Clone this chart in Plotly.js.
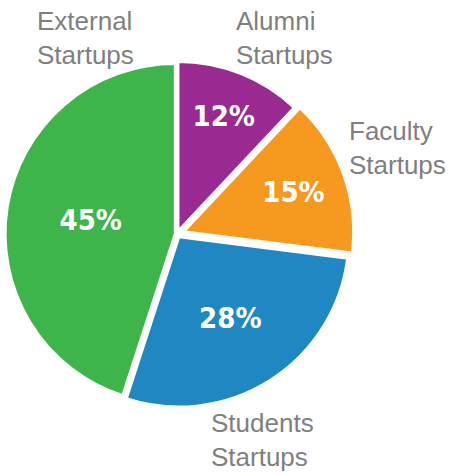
<!DOCTYPE html>
<html><head><meta charset="utf-8">
<script src="https://cdn.plot.ly/plotly-3.0.1.min.js"></script>
<style>html,body{margin:0;padding:0;background:#fff}#chart{width:454px;height:475px}</style>
</head><body><div id="chart"></div>
<script>
const categories = ["Alumni Startups", "Faculty Startups", "Students Startups", "External Startups"];
const labelText = ["Alumni<br>Startups", "Faculty<br>Startups", "Students<br>Startups", "External<br>Startups"];
const shares = [12, 15, 28, 45];
const colors = ["#9a2a92", "#f7981f", "#1f88c2", "#3db54a"];
const pulls = [0.015, 0.04, 0.02, 0.01];

// label placement (layout): left edge x, vertical centre y, in pixels
const labelPos = [[234, 38], [347, 148], [209, 440], [35, 38]];

const W = 454, H = 475;
const cx = 177, cy = 234, R = 177;

const trace = {
  type: "pie",
  values: shares,
  labels: categories,
  sort: false,
  direction: "clockwise",
  rotation: 0,
  pull: pulls,
  marker: {colors: colors, line: {color: "#fff", width: 3}},
  texttemplate: "%{value}%",
  textposition: "inside",
  insidetextorientation: "horizontal",
  insidetextfont: {color: "#fff", size: 29, family: "DejaVu Sans Condensed, sans-serif", weight: "bold"},
  domain: {x: [(cx - R) / W, (cx + R) / W], y: [(H - cy - R) / H, (H - cy + R) / H]},
  hoverinfo: "none"
};

const annotations = labelText.map((t, i) => ({
  text: t, xref: "paper", yref: "paper",
  x: labelPos[i][0] / W, y: 1 - labelPos[i][1] / H,
  xanchor: "left", yanchor: "middle", showarrow: false, align: "left",
  font: {family: "Liberation Sans, Arial, sans-serif", size: 26, color: "#7f7f7f"}
}));

Plotly.newPlot("chart", [trace], {
  width: W, height: H, margin: {l: 0, r: 0, t: 0, b: 0},
  showlegend: false, paper_bgcolor: "#fff", annotations: annotations
}, {displayModeBar: false, staticPlot: true});
</script></body></html>
